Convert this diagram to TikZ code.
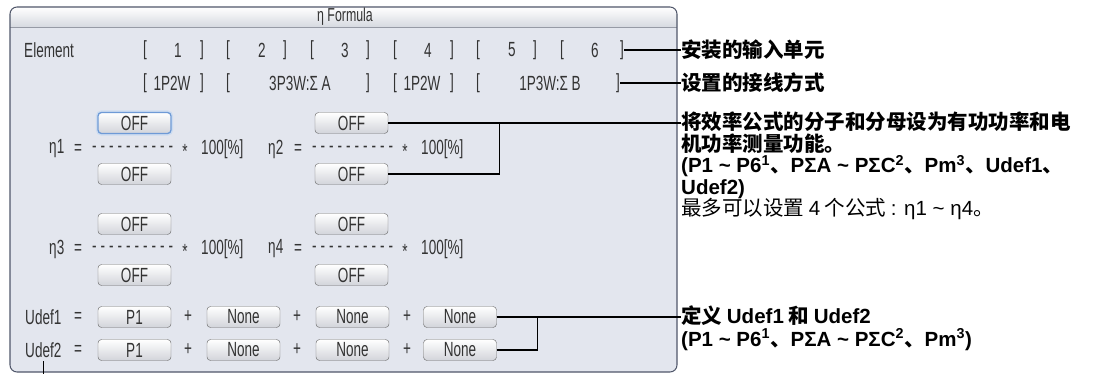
\documentclass[tikz,border=0pt]{standalone}
\usepackage{fontspec}
\setmainfont{Liberation Sans}
\newfontfamily\uifont[FakeStretch=0.66]{Liberation Sans}
\newfontfamily\cjk{Noto Sans CJK SC}
\newfontfamily\arial{Liberation Sans}
\usetikzlibrary{positioning,calc}

\definecolor{panelbg}{HTML}{E3E6EE}
\definecolor{panelrim}{HTML}{50576A}
\definecolor{titlebot}{HTML}{D6D9E0}
\definecolor{uitext}{HTML}{333333}
\definecolor{btnrim}{HTML}{6E6E6E}
\definecolor{btnbot}{HTML}{D2D4DA}
\definecolor{selblue}{HTML}{6E9AD6}

\newcommand\ltn[1]{{\arial #1}}
\newcommand\dashes{\foreach \k in {1,...,9}{-\kern3.4pt}-}

\tikzset{
  ui/.style={font=\uifont\fontsize{17.5}{19}\selectfont, text=uitext, inner sep=0pt},
  btn/.style={ui, draw=btnrim, rounded corners=3pt, top color=white, bottom color=btnbot,
    minimum width=2.19cm, minimum height=0.63cm},
  sel/.style={draw=selblue, line width=1.1pt, preaction={draw=selblue!35, line width=3.5pt}},
  note/.style={font=\cjk\bfseries\fontsize{17.5}{20}\selectfont, inner sep=0pt},
  leader/.style={line width=1.1pt}
}

\begin{document}
\begin{tikzpicture}[x=0.03cm,y=-0.03cm]
  \useasboundingbox (0,0) rectangle (1098,374);

  % dialog panel
  \fill[panelbg, rounded corners=6] (10,7) rectangle (677,372);
  \begin{scope}
    \clip[rounded corners=6] (10,7) rectangle (677,372);
    \shade[top color=white, bottom color=titlebot] (10,7) rectangle (677,27);
    \draw[panelrim!60] (10,27) -- (677,27);
  \end{scope}
  \draw[panelrim, line width=0.9pt, rounded corners=6] (10,7) rectangle (677,372);
  \node[ui, font=\uifont\fontsize{16}{17}\selectfont] (title) at (345,17) {η Formula};

  % installed elements
  \node[ui, anchor=west] (elem) at (24,50) {Element};
  \foreach \l/\n/\r [count=\i] in {145/178/202, 228/262/285, 312/345/368, 395/428/452, 478/512/535, 562/595/622} {
    \node[ui] (lb\i) at (\l,50) {[};
    \node[ui] (num\i) at (\n,50) {\i};
    \node[ui] (rb\i) at (\r,50) {]};
  }

  % wiring
  \foreach \l/\m/\w/\r [count=\i] in {145/172/1P2W/202, 228/300/3P3W:Σ A/368, 395/422/1P2W/452, 478/550/1P3W:Σ B/618} {
    \node[ui] (wl\i) at (\l,83) {[};
    \node[ui] (wire\i) at (\m,83) {\w};
    \node[ui] (wr\i) at (\r,83) {]};
  }

  % efficiency formulas
  \node[btn, sel] (n1) at (134.5,123) {OFF};
  \node[btn] (d1) at (134.5,174) {OFF};
  \node[btn] (n2) at (351.5,123) {OFF};
  \node[btn] (d2) at (351.5,174) {OFF};
  \node[btn] (n3) at (134.5,224) {OFF};
  \node[btn] (d3) at (134.5,275) {OFF};
  \node[btn] (n4) at (351.5,224) {OFF};
  \node[btn] (d4) at (351.5,275) {OFF};
  \foreach \k/\x/\q/\y in {1/49/78/149, 2/268/298/149, 3/49/78/249, 4/268/298/249} {
    \node[ui, anchor=west] (eta\k) at (\x,\y) {η\k};
    \node[ui] (eq\k) at (\q,\y) {=};
    \node[ui, anchor=west] (frac\k) at (\q+14,\y) {\dashes};
    \node[ui] (mul\k) at (\q+107,\y+2) {*};
    \node[ui, anchor=west] (pct\k) at (\q+123,\y) {100[\%]};
  }

  % user defined functions
  \foreach \k/\y in {1/317, 2/350} {
    \node[ui, anchor=west] (u\k) at (25,\y) {Udef\k};
    \node[ui] (ueq\k) at (78,\y) {=};
    \node[btn] (ua\k) at (134.5,\y) {P1};
    \node[ui] (p1\k) at (188,\y) {+};
    \node[btn] (ub\k) at (243.5,\y) {None};
    \node[ui] (p2\k) at (297,\y) {+};
    \node[btn] (uc\k) at (352.5,\y) {None};
    \node[ui] (p3\k) at (407,\y) {+};
    \node[btn] (ud\k) at (460,\y) {None};
  }

  % notes
  \node[note, anchor=west] (a1) at (681,50) {安装的输入单元};
  \node[note, anchor=west] (a2) at (681,83) {设置的接线方式};
  \node[note, anchor=base west] (a3) at (681,130) {将效率公式的分子和分母设为有功功率和电};
  \node[note, anchor=base west] (a3b) at (681,151.5) {机功率测量功能。};
  \node[note, anchor=base west] (a3c) at (681,173) {\ltn{(P1 \textasciitilde{} P6\textsuperscript{1}}、\ltn{PΣA \textasciitilde{} PΣC\textsuperscript{2}}、\ltn{Pm\textsuperscript{3}}、\ltn{Udef1}、};
  \node[note, anchor=base west] (a3d) at (681,194.5) {\ltn{Udef2)}};
  \node[note, anchor=base west, font=\cjk\fontsize{17.5}{20}\selectfont] (a3e) at (681,216) {最多可以设置 \ltn{4} 个公式 \ltn{: η1 \textasciitilde{} η4}。};
  \node[note, anchor=base west] (a4) at (681,324) {定义 \ltn{Udef1} 和 \ltn{Udef2}};
  \node[note, anchor=base west] (a4b) at (681,346) {\ltn{(P1 \textasciitilde{} P6\textsuperscript{1}}、\ltn{PΣA \textasciitilde{} PΣC\textsuperscript{2}}、\ltn{Pm\textsuperscript{3})}};

  % leaders
  \draw[leader] (rb6.east) -- (rb6.east -| a1.west);
  \draw[leader] (wr4.east) -- (wr4.east -| a2.west);
  \draw[leader] (n2.east) -- (n2.east -| a3.west);
  \coordinate (j1) at ($(n2.east)!0.38!(n2.east -| a3.west)$);
  \draw[leader] (d2.east) -| (j1);
  \draw[leader] (ud1.east) -- (ud1.east -| a4.west);
  \coordinate (j2) at ($(ud1.east)!0.22!(ud1.east -| a4.west)$);
  \draw[leader] (ud2.east) -| (j2);
  \coordinate (bot) at (0,374);
  \draw[leader] ([yshift=-3pt]u2.south) -- (u2.south |- bot);

\end{tikzpicture}
\end{document}
